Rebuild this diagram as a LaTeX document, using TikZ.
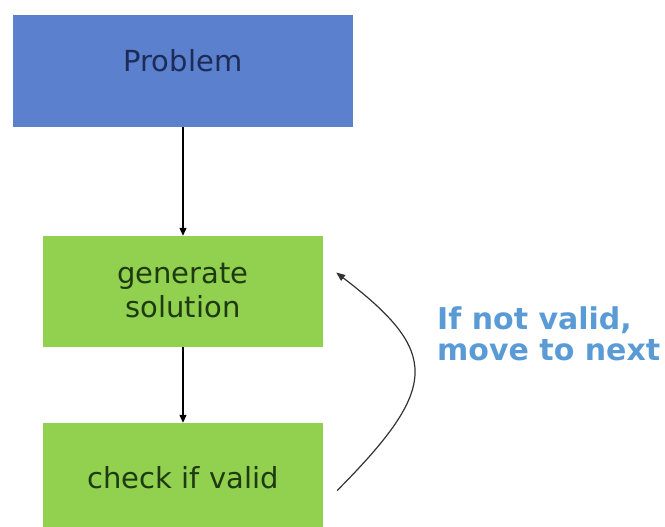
\documentclass[tikz,border=0pt]{standalone}
\usepackage{fontspec}
\setmainfont{DejaVu Sans}
\usetikzlibrary{arrows.meta}
\definecolor{probblue}{HTML}{5B80CE}
\definecolor{stepgreen}{HTML}{92D050}
\definecolor{probtext}{HTML}{1C2B57}
\definecolor{steptext}{HTML}{1E3A10}
\definecolor{notecolor}{HTML}{5B9BD5}
\tikzset{
  boxbase/.style={rectangle, inner sep=0pt, draw=none},
  problembox/.style={boxbase, fill=probblue, minimum width=339bp, minimum height=112bp},
  stepbox/.style={boxbase, fill=stepgreen, minimum width=280bp, minimum height=111bp},
  boxlabel/.style={font=\fontsize{29bp}{34bp}\selectfont, align=center, inner sep=0pt},
  flow/.style={-{Triangle[length=8bp,width=7bp]}, line width=1.2bp, black},
  loop/.style={-{Triangle[length=9bp,width=7bp]}, line width=1.2bp, black!80},
}
\begin{document}
\begin{tikzpicture}[x=1bp,y=-1bp]
  \useasboundingbox (0,0) rectangle (665,527);
  \clip (0,0) rectangle (665,527);
  % boxes
  \node[problembox] (problem) at (183,71) {};
  \node[stepbox] (generate) at (183,291.5) {};
  \node[stepbox] (check) at (183,478.5) {};
  % box texts
  \node[boxlabel, text=probtext, anchor=base] (problemtext) at (183,72) {Problem};
  \node[boxlabel, text=steptext, anchor=base] (generatetext) at (183,283) {generate};
  \node[boxlabel, text=steptext, anchor=base] (solutiontext) at (183,317) {solution};
  \node[boxlabel, text=steptext, anchor=base] (checktext) at (183,488) {check if valid};
  % flow arrows
  \draw[flow] (problem.south) -- (generate.north);
  \draw[flow] (generate.south) -- (check.north);
  % loop back arrow
  \draw[loop] ([shift={(14,12)}]check.east) .. controls (440,387) and (440,352) .. ([shift={(13,-19)}]generate.east);
  % note
  \node[font=\bfseries\fontsize{30bp}{31bp}\selectfont, text=notecolor, align=left, anchor=base west, inner sep=0pt] (note) at (437,360) {If not valid,\\move to next};
\end{tikzpicture}
\end{document}
